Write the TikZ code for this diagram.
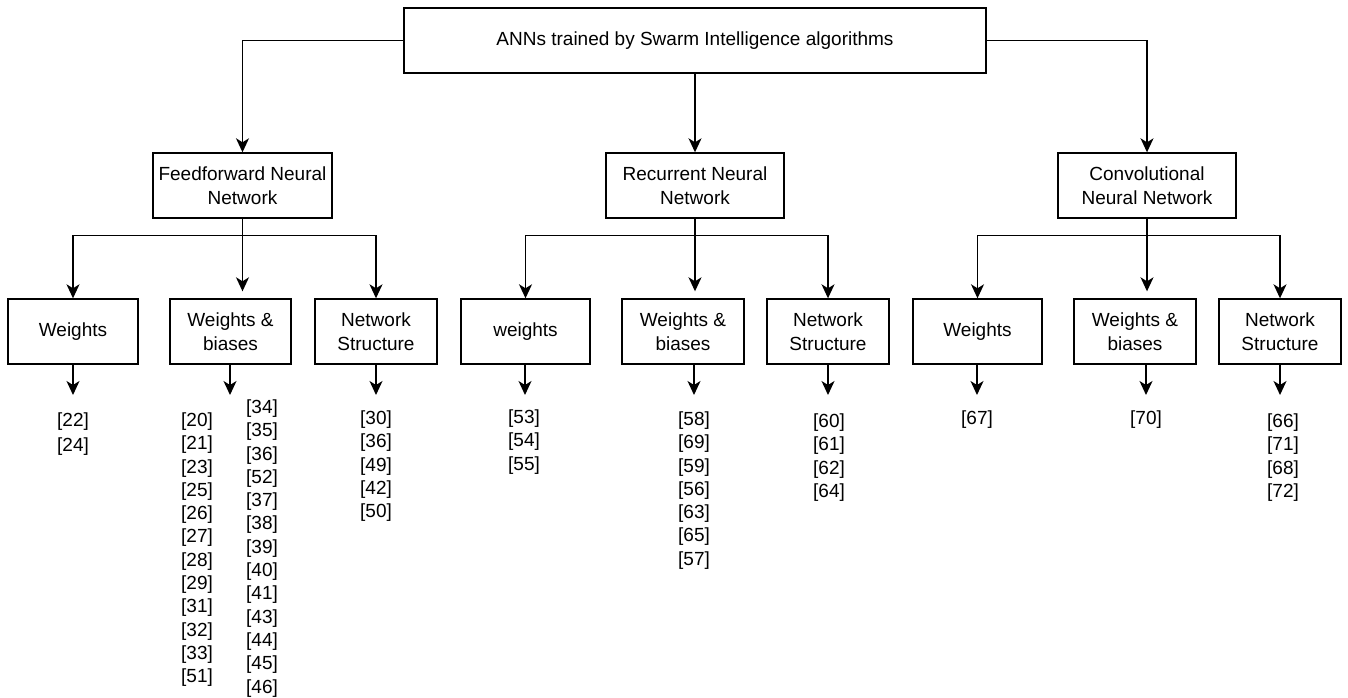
\documentclass[tikz,border=0pt]{standalone}
\usepackage{fontspec}
\setmainfont{Liberation Sans}
\usetikzlibrary{arrows.meta}
\tikzset{
  box/.style={draw=black, line width=1.4pt, fill=white, inner sep=0pt, align=center,
    font=\fontsize{19}{24.5}\selectfont},
  arr/.style={draw=black, line width=1.4pt, -{Stealth[length=14pt,width=13pt,inset=4pt]}},
  reflist/.style={inner sep=0pt, anchor=north, align=center,
    font=\fontsize{19}{23.3}\selectfont}
}
\begin{document}
\begin{tikzpicture}[x=1pt,y=-1pt]
\useasboundingbox (0,0) rectangle (1348,698);
% root
\node[box, minimum width=582pt, minimum height=65pt] (root) at (695,40.5) {ANNs trained by Swarm Intelligence algorithms};
% level 1
\node[box, minimum width=179pt, minimum height=65pt] (ffnn) at (242.5,185.5) {Feedforward Neural\\Network};
\node[box, minimum width=178pt, minimum height=65pt] (rnn) at (695,185.5) {Recurrent Neural\\Network};
\node[box, minimum width=178pt, minimum height=65pt] (cnn) at (1147,185.5) {Convolutional\\Neural Network};
% level 2
\node[box, minimum width=130pt, minimum height=65pt] (ffw) at (73,331.5) {Weights};
\node[box, minimum width=121pt, minimum height=65pt] (ffwb) at (230.5,331.5) {Weights \&\\biases};
\node[box, minimum width=122pt, minimum height=65pt] (ffns) at (376,331.5) {Network\\Structure};
\node[box, minimum width=129pt, minimum height=65pt] (rnw) at (525.5,331.5) {weights};
\node[box, minimum width=122pt, minimum height=65pt] (rnwb) at (683,331.5) {Weights \&\\biases};
\node[box, minimum width=122pt, minimum height=65pt] (rnns) at (828,331.5) {Network\\Structure};
\node[box, minimum width=129pt, minimum height=65pt] (cnw) at (977.5,331.5) {Weights};
\node[box, minimum width=122pt, minimum height=65pt] (cnwb) at (1135,331.5) {Weights \&\\biases};
\node[box, minimum width=122pt, minimum height=65pt] (cnns) at (1280,331.5) {Network\\Structure};
% reference lists
\node[reflist] (r1) at (73,412.5) {[22]\\[1.7pt][24]};
\node[reflist] (r2a) at (197,412.5) {[20]\\{}[21]\\{}[23]\\{}[25]\\{}[26]\\{}[27]\\{}[28]\\{}[29]\\{}[31]\\{}[32]\\{}[33]\\{}[51]};
\node[reflist] (r2b) at (262,399.5) {[34]\\{}[35]\\{}[36]\\{}[52]\\{}[37]\\{}[38]\\{}[39]\\{}[40]\\{}[41]\\{}[43]\\{}[44]\\{}[45]\\{}[46]};
\node[reflist] (r3) at (376,410.5) {[30]\\{}[36]\\{}[49]\\{}[42]\\{}[50]};
\node[reflist] (r4) at (524,409.5) {[53]\\{}[54]\\{}[55]};
\node[reflist] (r5) at (694,411.5) {[58]\\{}[69]\\{}[59]\\{}[56]\\{}[63]\\{}[65]\\{}[57]};
\node[reflist] (r6) at (829,413.5) {[60]\\{}[61]\\{}[62]\\{}[64]};
\node[reflist] (r7) at (977,410.5) {[67]};
\node[reflist] (r8) at (1146,410.5) {[70]};
\node[reflist] (r9) at (1283,413.5) {[66]\\{}[71]\\{}[68]\\{}[72]};
% arrow tips above reference lists
\coordinate (t1) at (73,395);
\coordinate (t2) at (230,395);
\coordinate (t3) at (376,395);
\coordinate (t4) at (525,395);
\coordinate (t5) at (694,395);
\coordinate (t6) at (828,395);
\coordinate (t7) at (977,395);
\coordinate (t8) at (1146,395);
\coordinate (t9) at (1280,395);
% top connectors
\draw[arr] (root.west) -| (ffnn.north);
\draw[arr] (root.south) -- (rnn.north);
\draw[arr] (root.east) -| (cnn.north);
% second-level connectors
\foreach \p/\l/\m/\r in {ffnn/ffw/ffwb/ffns, rnn/rnw/rnwb/rnns, cnn/cnw/cnwb/cnns}{
  \draw[arr] (\p.south) -- ++(0,17) -| (\l.north);
  \draw[arr] (\p.south) -- ++(0,17) -| (\r.north);
  \draw[arr, shorten >=7pt] (\p.south) -- (\p.south |- \m.north);
}
% bottom arrows
\draw[arr] (ffw.south -| t1) -- (t1);
\draw[arr] (ffwb.south -| t2) -- (t2);
\draw[arr] (ffns.south -| t3) -- (t3);
\draw[arr] (rnw.south -| t4) -- (t4);
\draw[arr] (rnwb.south -| t5) -- (t5);
\draw[arr] (rnns.south -| t6) -- (t6);
\draw[arr] (cnw.south -| t7) -- (t7);
\draw[arr] (cnwb.south -| t8) -- (t8);
\draw[arr] (cnns.south -| t9) -- (t9);
\end{tikzpicture}
\end{document}
